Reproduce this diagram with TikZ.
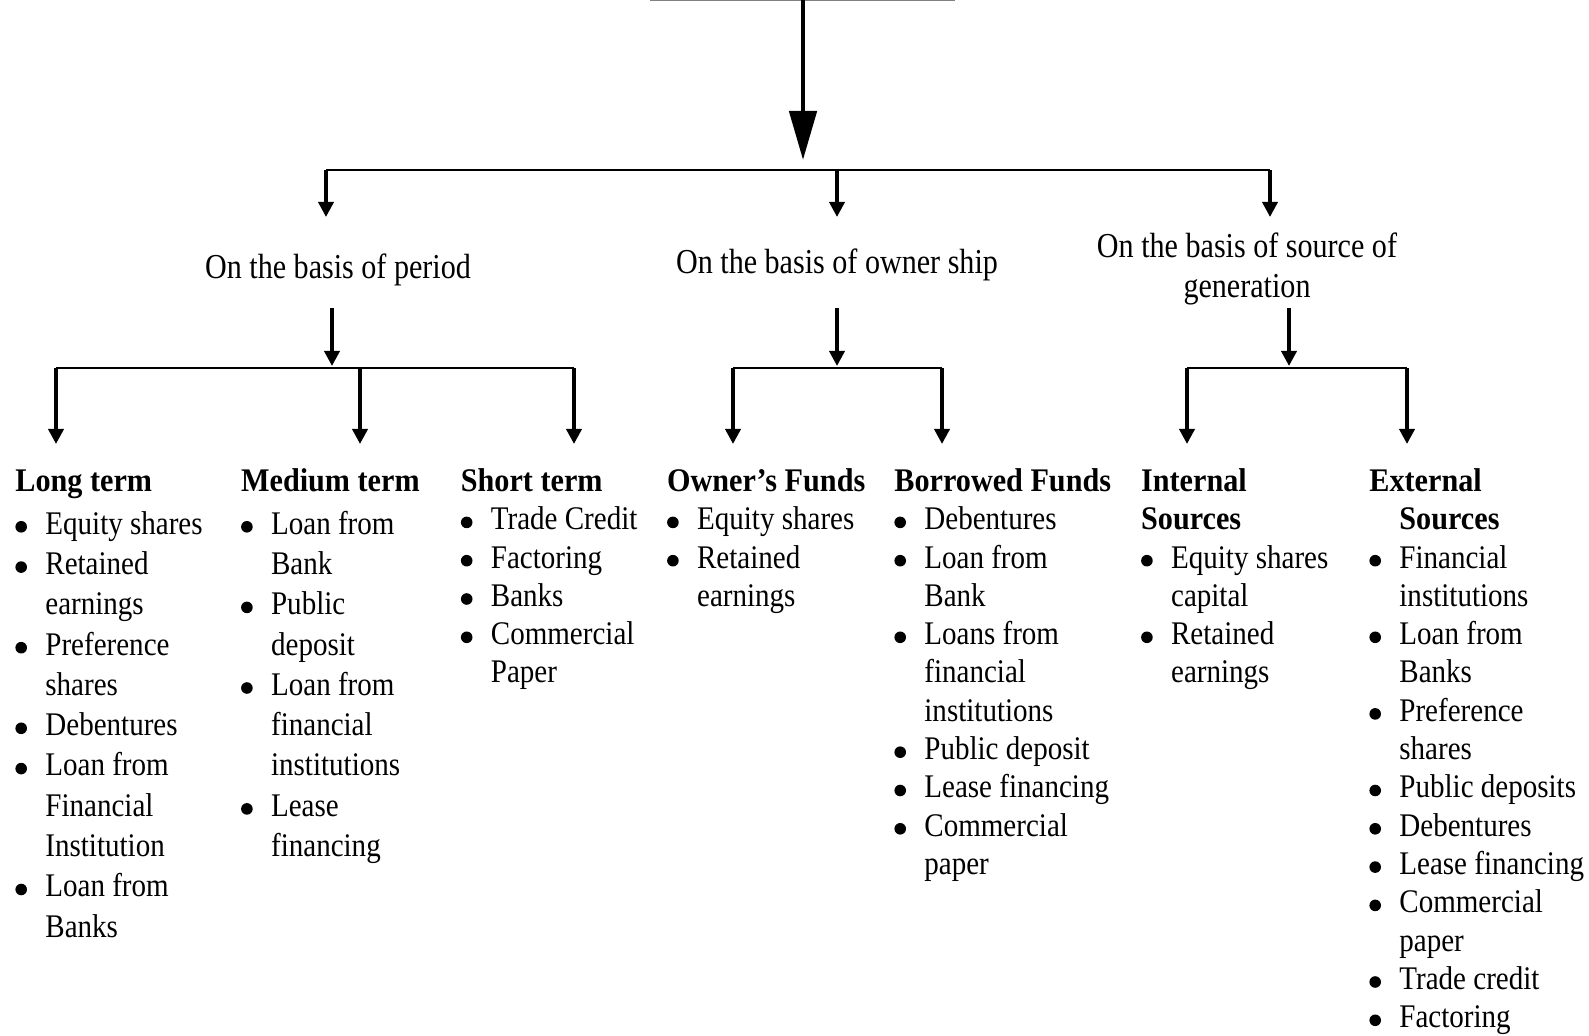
\documentclass[tikz,border=0pt]{standalone}
\usepackage{fontspec}
\setmainfont{Liberation Serif}
\newfontfamily\bodyfont{Liberation Serif}[FakeStretch=0.88]
\newfontfamily\headfont{Liberation Serif}[FakeStretch=0.915]
\newfontfamily\basisfont{Liberation Serif}[FakeStretch=0.86]
\usetikzlibrary{arrows.meta}
\newcommand{\blt}{\tikz[baseline=0pt]\fill (0,3.7pt) circle (2.9pt);}
\newcommand{\hd}[1]{\multicolumn{2}{@{}l@{}}{\headfont\bfseries #1}}
\tikzset{
  stem/.style={line width=1.8pt,-{Triangle[width=7.5pt,length=7.5pt]}},
  bar/.style={line width=1.4pt},
  basis/.style={font=\basisfont\fontsize{17.5}{20}\selectfont,align=center,inner sep=0pt},
  group/.style={font=\bodyfont\fontsize{16.5}{#1}\selectfont,inner sep=0pt,anchor=base west},
  group/.default=19.15pt
}

\begin{document}
\begin{tikzpicture}[x=0.5pt,y=-0.5pt]
    \useasboundingbox (0,0) rectangle (1589,1036);
    % Root
    \draw[gray,line width=0.8pt] (650,0) -- (955,0);
    \coordinate (root) at (803,0);
    \draw[line width=2.4pt,-{Triangle[width=13.5pt,length=24.5pt]}] (root) -- ++(0,160);
    % Bases of classification
    \node[basis,anchor=base] (period) at (338,279) {On the basis of period};
    \node[basis,anchor=base] (owner) at (837,274) {On the basis of owner ship};
    \node[basis] (source) at (1247,269) {On the basis of source of\\generation};
    \draw[bar] (326,170) coordinate (bl) -- (1270,170) coordinate (br);
    \draw[stem] (bl) -- ++(0,47);
    \draw[stem] (bl -| owner) -- ++(0,47);
    \draw[stem] (br) -- ++(0,47);
    % Split below each basis
    \foreach \x/\l/\r in {332/56/574, 837/733/942, 1289/1187/1407} {
        \draw[stem] (\x,308) -- (\x,366);
        \draw[bar] (\l,368) -- (\r,368);
        \draw[stem] (\l,368) -- (\l,444);
        \draw[stem] (\r,368) -- (\r,444);
    }
    \draw[stem] (360,368) -- (360,444);
    % Period
    \node[group=20.15pt] (long) at (15,491.5) {\begin{tabular}[t]{@{}p{15pt}@{}l@{}}
        \hd{Long term}\\[1.2pt]
        \blt & Equity shares\\ \blt & Retained\\ & earnings\\ \blt & Preference\\ & shares\\
        \blt & Debentures\\ \blt & Loan from\\ & Financial\\ & Institution\\ \blt & Loan from\\ & Banks
    \end{tabular}};
    \node[group=20.15pt] (medium) at (240.7,491.5) {\begin{tabular}[t]{@{}p{15pt}@{}l@{}}
        \hd{Medium term}\\[1.2pt]
        \blt & Loan from\\ & Bank\\ \blt & Public\\ & deposit\\ \blt & Loan from\\ & financial\\
        & institutions\\ \blt & Lease\\ & financing
    \end{tabular}};
    \node[group] (short) at (460.5,491.5) {\begin{tabular}[t]{@{}p{15pt}@{}l@{}}
        \hd{Short term}\\
        \blt & Trade Credit\\ \blt & Factoring\\ \blt & Banks\\ \blt & Commercial\\ & Paper
    \end{tabular}};
    % Ownership
    \node[group] (ownfund) at (666.7,491.5) {\begin{tabular}[t]{@{}p{15pt}@{}l@{}}
        \hd{Owner’s Funds}\\
        \blt & Equity shares\\ \blt & Retained\\ & earnings
    \end{tabular}};
    \node[group] (borrow) at (894,491.5) {\begin{tabular}[t]{@{}p{15pt}@{}l@{}}
        \hd{Borrowed Funds}\\
        \blt & Debentures\\ \blt & Loan from\\ & Bank\\ \blt & Loans from\\ & financial\\
        & institutions\\ \blt & Public deposit\\ \blt & Lease financing\\ \blt & Commercial\\ & paper
    \end{tabular}};
    % Source of generation
    \node[group] (internal) at (1140.7,491.5) {\begin{tabular}[t]{@{}p{15pt}@{}l@{}}
        \hd{Internal}\\ \hd{Sources}\\
        \blt & Equity shares\\ & capital\\ \blt & Retained\\ & earnings
    \end{tabular}};
    \node[group] (external) at (1369,491.5) {\begin{tabular}[t]{@{}p{15pt}@{}l@{}}
        \hd{External}\\ & \headfont\bfseries Sources\\
        \blt & Financial\\ & institutions\\ \blt & Loan from\\ & Banks\\ \blt & Preference\\ & shares\\
        \blt & Public deposits\\ \blt & Debentures\\ \blt & Lease financing\\ \blt & Commercial\\ & paper\\
        \blt & Trade credit\\ \blt & Factoring
    \end{tabular}};
\end{tikzpicture}
\end{document}
